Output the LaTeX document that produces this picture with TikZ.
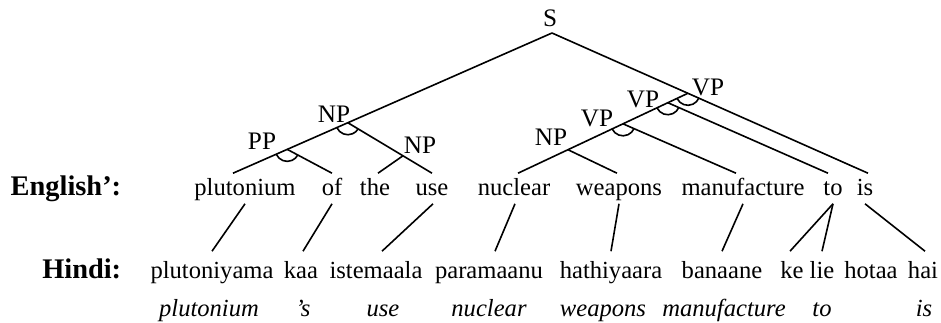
\documentclass[tikz,border=0pt]{standalone}
\usepackage{fontspec}
\setmainfont{Liberation Serif}
\usetikzlibrary{calc}
\begin{document}
\begin{tikzpicture}[x=0.5pt,y=-0.5pt,
  every path/.style={line width=0.8pt},
  eng/.style={font=\fontsize{12.3}{14}\selectfont, inner sep=0pt, text height=10.5pt, text depth=4pt, anchor=base},
  hin/.style={font=\fontsize{12.3}{14}\selectfont, inner sep=0pt, text height=13pt, text depth=3pt, anchor=base},
  gloss/.style={font=\fontsize{12.3}{14}\selectfont\itshape, inner sep=0pt, anchor=base},
  rowlab/.style={font=\fontsize{14.2}{16}\selectfont\bfseries, inner sep=0pt, anchor=base east},
  cat/.style={font=\fontsize{12.6}{14}\selectfont, inner sep=0pt, anchor=base},
  cup/.style={line width=0.8pt}]
\useasboundingbox (0,0) rectangle (941,322);

% row labels
\node[rowlab] (lEng) at (122,195) {English':};
\node[rowlab] (lHin) at (122,278) {Hindi:};

% English' words
\node[eng] (e1) at (245,195) {plutonium};
\node[eng] (e2) at (332,195) {of};
\node[eng] (e3) at (375,195) {the};
\node[eng] (e4) at (432,195) {use};
\node[eng] (e5) at (514,195) {nuclear};
\node[eng] (e6) at (619,195) {weapons};
\node[eng] (e7) at (743,195) {manufacture};
\node[eng] (e8) at (833,195) {to};
\node[eng] (e9) at (865,195) {is};

% Hindi words
\node[hin] (h1) at (212,278) {plutoniyama};
\node[hin] (h2) at (301,278) {kaa};
\node[hin] (h3) at (376,278) {istemaala};
\node[hin] (h4) at (489,278) {paramaanu};
\node[hin] (h5) at (611,278) {hathiyaara};
\node[hin] (h6) at (722,278) {banaane};
\node[hin] (h7) at (792,278) {ke};
\node[hin] (h8) at (822,278) {lie};
\node[hin] (h9) at (871,278) {hotaa};
\node[hin] (h10) at (923,278) {hai};

% glosses
\node[gloss] (g1) at (209,316) {plutonium};
\node[gloss] (g2) at (303,316) {'s};
\node[gloss] (g3) at (383,316) {use};
\node[gloss] (g4) at (489,316) {nuclear};
\node[gloss] (g5) at (603,316) {weapons};
\node[gloss] (g6) at (724,316) {manufacture};
\node[gloss] (g7) at (822,316) {to};
\node[gloss] (g8) at (924,316) {is};

% alignment links
\draw (e1.south) -- (h1.north);
\draw (e2.south) -- ([xshift=1pt]h2.north);
\draw ([xshift=0.5pt]e4.south) -- ([xshift=3pt]h3.north);
\draw ([xshift=0.5pt]e5.south) -- ([xshift=3pt]h4.north);
\draw (e6.south) -- (h5.north);
\draw (e7.south) -- (h6.north);
\draw (e8.south) -- ([xshift=-1pt]h7.north);
\draw (e8.south) -- (h8.north);
\draw (e9.south) -- ([xshift=1pt]h10.north);

% tree
\node[cat] (S) at (550,26) {S};
\coordinate (root) at (552,33);
\coordinate (l1) at ([xshift=-6pt]e1.north);
\coordinate (l2) at (e2.north);
\coordinate (l3) at ([xshift=1.5pt]e3.north);
\coordinate (l4) at (e4.north);
\coordinate (l5) at ([xshift=2pt]e5.north);
\coordinate (l6) at ([xshift=-1pt]e6.north);
\coordinate (l7) at ([xshift=-3.5pt]e7.north);
\coordinate (l8) at ([xshift=-2.5pt]e8.north);
\coordinate (l9) at ([xshift=1.5pt]e9.north);

\coordinate (jNP) at ($(root)!0.64!(l1)$);
\coordinate (jPP) at ($(root)!0.83!(l1)$);
\coordinate (jNPb) at ($(jNP)!0.655!(l4)$);
\coordinate (jVPc) at ($(root)!0.43!(l9)$);
\coordinate (jVPb) at ($(jVPc)!0.118!(l5)$);
\coordinate (jVPa) at ($(jVPc)!0.382!(l5)$);
\coordinate (jNPr) at ($(jVPc)!0.706!(l5)$);

\draw (root) -- (l1);
\draw (jNP) -- (l4);
\draw (jPP) -- (l2);
\draw (jNPb) -- (l3);
\draw (root) -- (l9);
\draw (jVPc) -- (l5);
\draw (jNPr) -- (l6);
\draw (jVPa) -- (l7);
\draw (jVPb) -- (l8);

% category labels
\node[cat] (cNP) at (334,122) {NP};
\node[cat] (cPP) at (262,149) {PP};
\node[cat] (cNPb) at (420,153) {NP};
\node[cat] (cNPr) at (551,145) {NP};
\node[cat] (cVPa) at (597,126) {VP};
\node[cat] (cVPb) at (643,107) {VP};
\node[cat] (cVPc) at (708,95) {VP};

% cups
\draw[cup] (jNP) ++(-156:6pt) arc[start angle=-156, end angle=-31, radius=6pt];
\draw[cup] (jPP) ++(-156:6pt) arc[start angle=-156, end angle=-28, radius=6pt];
\draw[cup] (jVPa) ++(-155:6pt) arc[start angle=-155, end angle=-23, radius=6pt];
\draw[cup] (jVPb) ++(-155:6pt) arc[start angle=-155, end angle=-24, radius=6pt];
\draw[cup] (jVPc) ++(-155:6pt) arc[start angle=-155, end angle=-24, radius=6pt];
\end{tikzpicture}
\end{document}
